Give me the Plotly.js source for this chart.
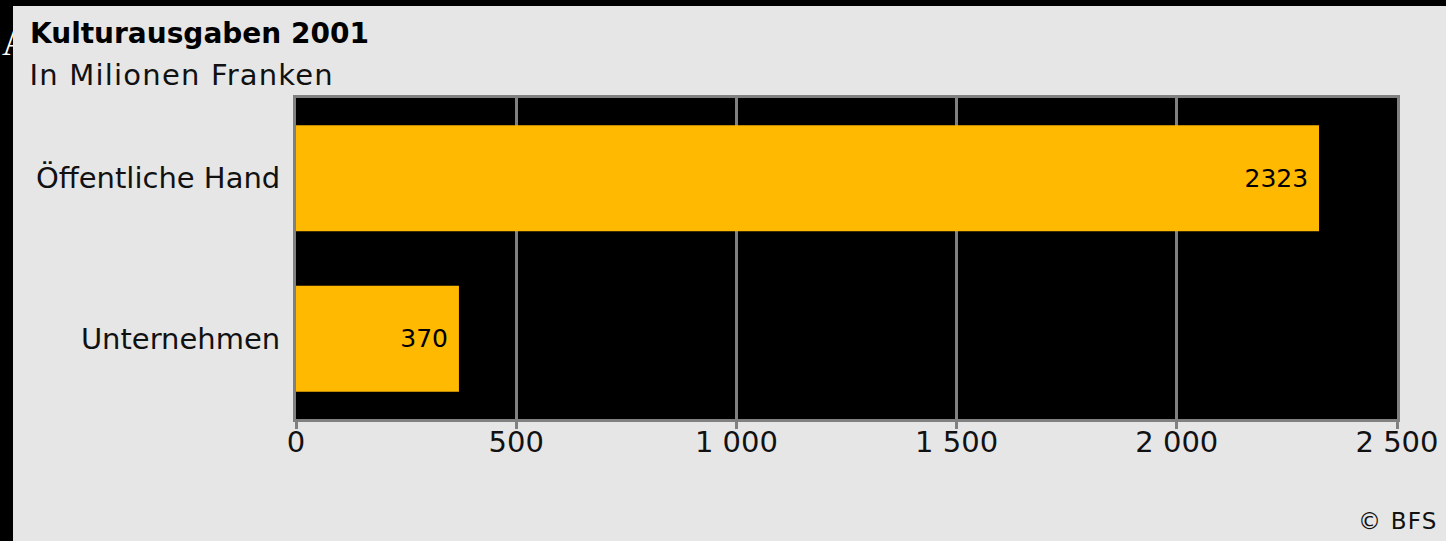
<!DOCTYPE html>
<html>
<head>
<meta charset="utf-8">
<script src="https://cdn.plot.ly/plotly-3.0.1.min.js"></script>
<style>
  html, body { margin:0; padding:0; background:#000; width:1446px; height:541px; overflow:hidden; }
  #mark { position:absolute; left:2px; top:22px; color:#fff; font-family:"Liberation Serif", serif; font-size:36px; z-index:0; }
  #chart { position:absolute; left:13px; top:6px; width:1433px; height:535px; z-index:1; }
  #chart .annotation-text { letter-spacing: 1.2px; }
</style>
</head>
<body>
<div id="mark">A</div>
<div id="chart"></div>
<script>
const categories = ['Öffentliche Hand', 'Unternehmen'];
const values = [2323, 370];
const tickValues = [0, 500, 1000, 1500, 2000, 2500];
const tickLabels = ['0', '500', '1 000', '1 500', '2 000', '2 500'];
const titleText = 'Kulturausgaben 2001';
const subtitleText = 'In Milionen Franken';
const sourceText = '© BFS';

const trace = {
  type: 'bar',
  orientation: 'h',
  y: categories,
  x: values,
  marker: { color: '#FFB900', line: { width: 0 } },
  text: values.map(String),
  texttemplate: '%{text}\u00a0',
  textposition: 'inside',
  insidetextanchor: 'end',
  textangle: 0,
  insidetextfont: { family: 'DejaVu Sans', size: 25, color: '#000' },
  hoverinfo: 'none',
  cliponaxis: false
};

const layout = {
  width: 1433,
  height: 535,
  margin: { l: 283, r: 49, t: 92, b: 122, pad: 0 },
  paper_bgcolor: '#e6e6e6',
  plot_bgcolor: '#000000',
  showlegend: false,
  bargap: 0.34,
  title: {
    text: '<b>' + titleText + '</b>',
    font: { family: 'DejaVu Sans', size: 28, color: '#000' },
    xref: 'container', x: 17 / 1433, xanchor: 'left',
    yref: 'container', y: 0.967, yanchor: 'top'
  },
  xaxis: {
    range: [0, 2500],
    tickvals: tickValues,
    ticktext: tickLabels,
    showgrid: true,
    gridcolor: '#808080',
    gridwidth: 3,
    zeroline: false,
    showline: true,
    mirror: true,
    linecolor: '#808080',
    linewidth: 3,
    ticks: 'outside',
    ticklen: 7,
    tickwidth: 3,
    tickcolor: '#808080',
    ticklabelstandoff: -12,
    tickfont: { family: 'DejaVu Sans', size: 29, color: '#111' },
    fixedrange: true
  },
  yaxis: {
    autorange: 'reversed',
    showgrid: false,
    zeroline: false,
    showline: true,
    mirror: true,
    linecolor: '#808080',
    linewidth: 3,
    ticks: '',
    ticklabelstandoff: 7,
    tickfont: { family: 'DejaVu Sans', size: 29, color: '#111' },
    fixedrange: true
  },
  annotations: [
    {
      text: subtitleText,
      xref: 'paper', yref: 'paper',
      x: -0.2334, xanchor: 'left',
      y: 1.071, yanchor: 'middle',
      showarrow: false,
      font: { family: 'DejaVu Sans', size: 29, color: '#111' }
    },
    {
      text: sourceText,
      xref: 'paper', yref: 'paper',
      x: 1.0363, xanchor: 'right',
      y: -0.318, yanchor: 'middle',
      showarrow: false,
      font: { family: 'DejaVu Sans', size: 23, color: '#111' }
    }
  ]
};

Plotly.newPlot('chart', [trace], layout, { displayModeBar: false, staticPlot: true });
</script>
</body>
</html>
